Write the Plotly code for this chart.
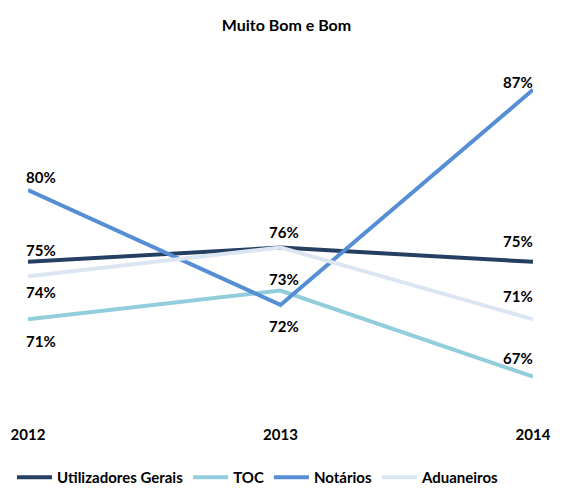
import plotly.graph_objects as go

years = ["2012", "2013", "2014"]
utilizadores = [75, 76, 75]
toc = [71, 73, 67]
notarios = [80, 72, 87]
aduaneiros = [74, 76, 71]

# label placement per point: vertical shift in px (None = no label)
series = [
    ("Utilizadores Gerais", utilizadores, "#243F60", [12, 16, 21]),
    ("TOC", toc, "#92CDDC", [-22, 12, 19]),
    ("Notários", notarios, "#558ED5", [13, -21, 8]),
    ("Aduaneiros", aduaneiros, "#DCE6F2", [-16, None, 23]),
]
X_ANCHORS = ["left", "center", "right"]
X_SHIFTS = [-4, 3, 2]

FONT = "Lato, 'Open Sans', sans-serif"
W, H = 573, 488

fig = go.Figure()
for name, vals, color, shifts in series:
    fig.add_trace(go.Scatter(
        x=years,
        y=vals,
        mode="lines",
        name=name,
        line=dict(color=color, width=4),
        hovertemplate=f"{name}  %{{y}}%<extra></extra>",
    ))
    for i, v in enumerate(vals):
        if shifts[i] is None:
            continue
        # category axis: annotations use the category's serial number
        fig.add_annotation(
            x=i, y=v,
            text=f"<b>{v}%</b>",
            showarrow=False,
            xanchor=X_ANCHORS[i],
            yanchor="middle",
            xshift=X_SHIFTS[i],
            yshift=shifts[i],
            font=dict(family=FONT, size=15, color="#000000"),
        )

fig.update_layout(
    width=W,
    height=H,
    autosize=False,
    margin=dict(l=28, r=40, t=61, b=64, autoexpand=False),
    paper_bgcolor="white",
    plot_bgcolor="white",
    font=dict(family=FONT, size=14, color="#000000"),
    title=dict(text="<b>Muito Bom e Bom</b>", x=0.5, xanchor="center",
               y=1 - 25 / H, yref="container", yanchor="middle",
               font=dict(size=16, family=FONT)),
    xaxis=dict(
        type="category",
        range=[0, 2],
        showgrid=False,
        showline=False,
        zeroline=False,
        ticks="",
        automargin=False,
        tickfont=dict(family=FONT, size=15, color="#000000", weight="bold"),
    ),
    yaxis=dict(
        range=[63.7, 89],
        visible=False,
        automargin=False,
    ),
    legend=dict(
        orientation="h",
        x=12 / W,
        xref="container",
        xanchor="left",
        y=1 - 461 / H,
        yref="container",
        yanchor="top",
        font=dict(family=FONT, size=15, color="#000000", weight="bold"),
        itemwidth=35,
    ),
    showlegend=True,
)

# the page's default body margin would shift the figure by 8px
fig.write_html("out.html", config={"displayModeBar": False},
               post_script="document.body.style.margin='0';")
